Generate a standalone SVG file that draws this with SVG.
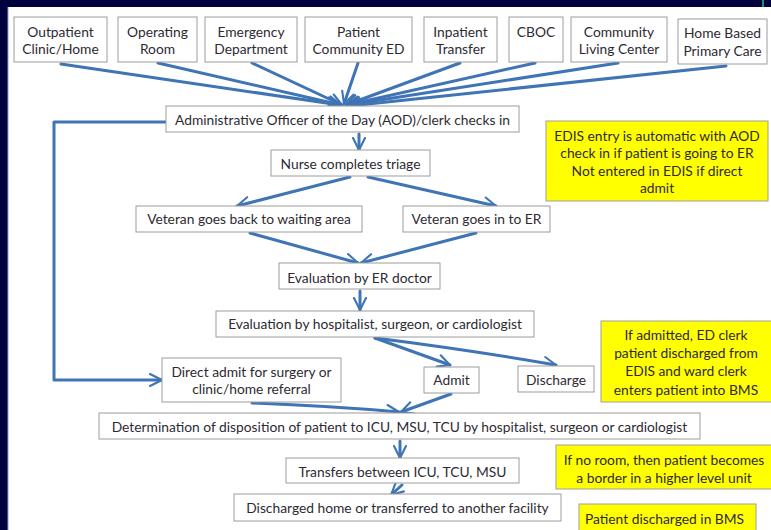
<svg xmlns="http://www.w3.org/2000/svg" width="771" height="530" viewBox="0 0 771 530">
<defs>
<style>
.bx{fill:#ffffff;stroke:#9c9c9c;stroke-width:1}
.yl{fill:#ffff00;stroke:#a0a0a0;stroke-width:1}
.t{font-family:Lato,"Liberation Sans",sans-serif;font-size:13.8px;fill:#2e2a33;text-anchor:middle}
.c{fill:none;stroke:#3f74b5;stroke-width:3;stroke-linecap:round;stroke-linejoin:round}
</style>
<marker id="ah" viewBox="0 0 10 10" refX="9" refY="5" markerWidth="5" markerHeight="5" orient="auto" markerUnits="strokeWidth">
<path d="M1,1 L9,5 L1,9" fill="none" stroke="#3f74b5" stroke-width="1.4" stroke-linecap="round" stroke-linejoin="round"/>
</marker>
</defs>
<rect x="0" y="0" width="771" height="530" fill="#01013d"/>
<rect x="8" y="7" width="763" height="523" fill="#ffffff"/>
<line x1="8" y1="7" x2="8" y2="530" stroke="#8fa3d6" stroke-width="1"/>
<line x1="763" y1="0" x2="763" y2="7" stroke="#20c080" stroke-width="1.5"/>

<g id="connectors">
<path class="c" d="M61,64 L340,105" marker-end="url(#ah)"/>
<path class="c" d="M158,63 L341,105" marker-end="url(#ah)"/>
<path class="c" d="M252,63 L342,105" marker-end="url(#ah)"/>
<path class="c" d="M358,63 L344,104" marker-end="url(#ah)"/>
<path class="c" d="M460,63 L346,105" marker-end="url(#ah)"/>
<path class="c" d="M535,63 L347,105" marker-end="url(#ah)"/>
<path class="c" d="M618,63 L348,105" marker-end="url(#ah)"/>
<path class="c" d="M726,66 L349,106" marker-end="url(#ah)"/>
<path class="c" d="M359,134 L359,150" marker-end="url(#ah)"/>
<path class="c" d="M350,177 L237,206" marker-end="url(#ah)"/>
<path class="c" d="M368,177 L496,206" marker-end="url(#ah)"/>
<path class="c" d="M250,233 L358,263" marker-end="url(#ah)"/>
<path class="c" d="M476,233 L361,263" marker-end="url(#ah)"/>
<path class="c" d="M360,291 L360,310" marker-end="url(#ah)"/>
<path class="c" d="M375,338 L450,365" marker-end="url(#ah)"/>
<path class="c" d="M375,338 Q470,350 556,365" marker-end="url(#ah)"/>
<path class="c" d="M451,394 L401,412" marker-end="url(#ah)"/>
<path class="c" d="M252,403 Q330,406 399,412" marker-end="url(#ah)"/>
<path class="c" d="M400,441 L400,458" marker-end="url(#ah)"/>
<path class="c" d="M402,485 L391,495" marker-end="url(#ah)"/>
<path class="c" d="M166,122 L54,122 L54,380 L162,380" marker-end="url(#ah)"/>
</g>

<g id="n-outpatient"><rect class="bx" x="14" y="17" width="93" height="45"/><text class="t" x="60.5" y="36.5">Outpatient</text><text class="t" x="60.5" y="53.5">Clinic/Home</text></g>
<g id="n-operating"><rect class="bx" x="118" y="17" width="79" height="45"/><text class="t" x="157.5" y="36.5">Operating</text><text class="t" x="157.5" y="53.5">Room</text></g>
<g id="n-emergency"><rect class="bx" x="205" y="17" width="92" height="45"/><text class="t" x="251" y="36.5">Emergency</text><text class="t" x="251" y="53.5">Department</text></g>
<g id="n-community-ed"><rect class="bx" x="305" y="17" width="107" height="45"/><text class="t" x="358.5" y="36.5">Patient</text><text class="t" x="358.5" y="53.5">Community ED</text></g>
<g id="n-inpatient"><rect class="bx" x="424" y="17" width="73" height="45"/><text class="t" x="460.5" y="36.5">Inpatient</text><text class="t" x="460.5" y="53.5">Transfer</text></g>
<g id="n-cboc"><rect class="bx" x="509" y="17" width="54" height="45"/><text class="t" x="536" y="36.5">CBOC</text></g>
<g id="n-clc"><rect class="bx" x="571" y="17" width="96" height="45"/><text class="t" x="619" y="36.5">Community</text><text class="t" x="619" y="53.5">Living Center</text></g>
<g id="n-hbpc"><rect class="bx" x="678" y="19" width="89" height="45"/><text class="t" x="722.5" y="38">Home Based</text><text class="t" x="722.5" y="56">Primary Care</text></g>

<g id="n-aod"><rect class="bx" x="166" y="106" width="353" height="26"/><text class="t" x="342.5" y="125">Administrative Officer of the Day (AOD)/clerk checks in</text></g>
<g id="n-triage"><rect class="bx" x="271" y="150" width="159" height="26"/><text class="t" x="350.5" y="168.5">Nurse completes triage</text></g>
<g id="n-waiting"><rect class="bx" x="136" y="206" width="226" height="26"/><text class="t" x="249" y="223.5">Veteran goes back to waiting area</text></g>
<g id="n-er"><rect class="bx" x="403" y="206" width="147" height="26"/><text class="t" x="476.5" y="223.5">Veteran goes in to ER</text></g>
<g id="n-erdoc"><rect class="bx" x="279" y="263" width="161" height="26"/><text class="t" x="359.5" y="282.5">Evaluation by ER doctor</text></g>
<g id="n-hosp"><rect class="bx" x="216" y="311" width="318" height="26"/><text class="t" x="375" y="328.5">Evaluation by hospitalist, surgeon, or cardiologist</text></g>
<g id="n-direct"><rect class="bx" x="162" y="358" width="179" height="44"/><text class="t" x="251.5" y="376.5">Direct admit for surgery or</text><text class="t" x="251.5" y="393.5">clinic/home referral</text></g>
<g id="n-admit"><rect class="bx" x="424" y="367" width="55" height="26"/><text class="t" x="451.5" y="384.5">Admit</text></g>
<g id="n-discharge"><rect class="bx" x="518" y="366" width="76" height="26"/><text class="t" x="556" y="384.5">Discharge</text></g>
<g id="n-determination"><rect class="bx" x="99" y="413" width="601" height="26"/><text class="t" x="399.5" y="431.5">Determination of disposition of patient to ICU, MSU, TCU by hospitalist, surgeon or cardiologist</text></g>
<g id="n-transfers"><rect class="bx" x="286" y="458" width="233" height="25"/><text class="t" x="402.5" y="476.5">Transfers between ICU, TCU, MSU</text></g>
<g id="n-discharged"><rect class="bx" x="234" y="494" width="327" height="27"/><text class="t" x="397.5" y="512.5">Discharged home or transferred to another facility</text></g>

<g id="note-edis"><rect class="yl" x="546" y="121" width="222" height="80"/><text class="t" x="657" y="140.5">EDIS entry is automatic with AOD</text><text class="t" x="657" y="158">check in if patient is going to ER</text><text class="t" x="657" y="175.5">Not entered in EDIS if direct</text><text class="t" x="657" y="193">admit</text></g>
<g id="note-admitted"><rect class="yl" x="601" y="321" width="172" height="81"/><text class="t" x="686" y="339.5">If admitted, ED clerk</text><text class="t" x="686" y="357.5">patient discharged from</text><text class="t" x="686" y="376">EDIS and ward clerk</text><text class="t" x="686" y="394.5">enters patient into BMS</text></g>
<g id="note-noroom"><rect class="yl" x="556" y="445" width="217" height="44"/><text class="t" x="664" y="464.5">If no room, then patient becomes</text><text class="t" x="664" y="482.5">a border in a higher level unit</text></g>
<g id="note-bms"><rect class="yl" x="579" y="504" width="177" height="30"/><text class="t" x="585" y="523.5" style="text-anchor:start">Patient discharged in BMS</text></g>
</svg>
